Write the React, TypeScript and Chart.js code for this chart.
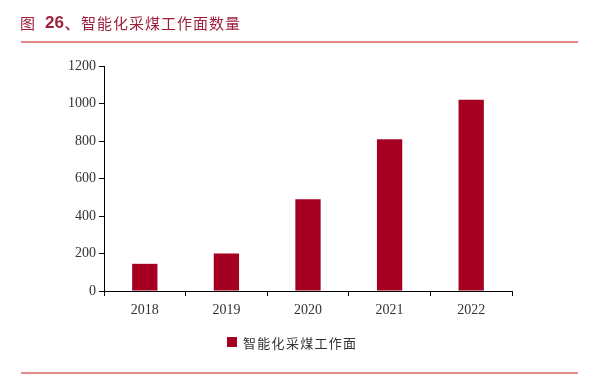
import React, { useEffect, useRef } from "react";
import { Chart, registerables } from "chart.js";

Chart.register(...registerables);

const categories = ["2018", "2019", "2020", "2021", "2022"];
const seriesName = "智能化采煤工作面";
const values = [145, 200, 490, 810, 1020];
const titleNumber = "26、";
const titleText = "智能化采煤工作面数量";

const BAR = "#a50021";
const TITLE = "#9e1f3a";
const RULE = "#e58a8a";

export default function App() {
  const ref = useRef<HTMLCanvasElement | null>(null);
  useEffect(() => {
    document.body.style.margin = "0";
    const ctx = ref.current!;
    const chart = new Chart(ctx, {
      type: "bar",
      data: {
        labels: categories,
        datasets: [
          {
            label: seriesName,
            data: values,
            backgroundColor: BAR,
            categoryPercentage: 1,
            barPercentage: 0.31,
          },
        ],
      },
      options: {
        responsive: false,
        animation: false,
        layout: { padding: { left: 0, right: 82, top: 66, bottom: 0 } },
        plugins: { legend: { display: false }, tooltip: { enabled: false }, title: { display: false } },
        scales: {
          x: {
            grid: { drawOnChartArea: false, drawTicks: true, tickLength: 5, color: "#000", offset: true },
            border: { display: true, color: "#000", width: 1 },
            ticks: { color: "#333", font: { family: "Liberation Serif", size: 14 }, padding: 6 },
            afterFit: (s: any) => { s.height = 95; },
          },
          y: {
            min: 0,
            max: 1200,
            grid: { drawOnChartArea: false, drawTicks: true, tickLength: 5, color: "#000" },
            border: { display: true, color: "#000", width: 1 },
            ticks: {
              stepSize: 200,
              color: "#333",
              font: { family: "Liberation Serif", size: 14 },
              padding: 3,
              callback: (v: any) => String(v),
            },
            afterFit: (s: any) => { s.width = 104; },
          },
        },
      },
    });
    return () => chart.destroy();
  }, []);

  return (
    <div style={{ position: "relative", width: 594, height: 386, background: "#fff", overflow: "hidden" }}>
      <canvas ref={ref} width={594} height={386} style={{ position: "absolute", left: 0, top: 0 }} />
      <div
        style={{
          position: "absolute",
          left: 20,
          top: 10,
          height: 24,
          display: "flex",
          alignItems: "center",
          color: TITLE,
          whiteSpace: "nowrap",
        }}
      >
        <span style={{ fontFamily: "Noto Sans CJK SC", fontSize: 15 }}>图</span>
        <span style={{ fontFamily: "Liberation Sans", fontSize: 17, fontWeight: "bold", marginLeft: 10 }}>{titleNumber}</span>
        <span style={{ fontFamily: "Noto Sans CJK SC", fontSize: 15, letterSpacing: 1, marginLeft: 0 }}>{titleText}</span>
      </div>
      <div style={{ position: "absolute", left: 21, top: 41, width: 557, height: 2, background: RULE }} />
      <div style={{ position: "absolute", left: 21, top: 372, width: 557, height: 2, background: RULE }} />
      <div
        style={{
          position: "absolute",
          left: 227,
          top: 332,
          height: 20,
          display: "flex",
          alignItems: "center",
          whiteSpace: "nowrap",
        }}
      >
        <span style={{ display: "inline-block", width: 10, height: 10, background: BAR }} />
        <span style={{ fontFamily: "Noto Sans CJK SC", fontSize: 13, letterSpacing: 1.3, color: "#333", marginLeft: 6 }}>
          {seriesName}
        </span>
      </div>
    </div>
  );
}
